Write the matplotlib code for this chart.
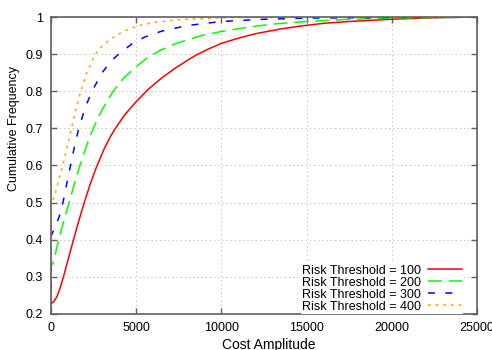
import matplotlib
matplotlib.use('Agg')
import matplotlib.pyplot as plt
from matplotlib.ticker import FormatStrFormatter

plt.rcParams['font.family'] = ['Liberation Sans', 'DejaVu Sans']
plt.rcParams['lines.scale_dashes'] = False

# Cumulative frequency curves
x_100 = [0, 150, 335, 500, 730, 1000, 1320, 1600, 1970, 2300, 2660, 3100, 3500, 3780, 4300,
         5000, 5700, 6500, 7220, 8000, 8500, 9200, 10000, 11000, 12000, 13500, 14700,
         16000, 17500, 20000, 22500, 25000]
y_100 = [0.228, 0.2325, 0.2455, 0.265, 0.30, 0.346, 0.40, 0.446, 0.503, 0.55, 0.595, 0.643, 0.679, 0.70, 0.735,
         0.772, 0.805, 0.836, 0.86, 0.883, 0.897, 0.913, 0.929, 0.943, 0.955, 0.968, 0.976,
         0.983, 0.988, 0.994, 0.998, 1.0]

x_200 = [0, 0, 100, 200, 320, 450, 750, 1060, 1370, 1700, 2060, 2480, 3000, 3650, 4250,
         5000, 5650, 6400, 7200, 8100, 9000, 10000, 11500, 13000, 15000, 17500, 20000, 25000]
y_200 = [0.25, 0.33, 0.335, 0.35, 0.375, 0.40, 0.45, 0.50, 0.55, 0.60, 0.65, 0.70, 0.75, 0.80, 0.835,
         0.866, 0.89, 0.91, 0.926, 0.94, 0.952, 0.961, 0.972, 0.981, 0.988, 0.994, 0.997, 1.0]

x_300 = [0, 0, 100, 300, 500, 700, 900, 1100, 1350, 1600, 2000, 2400, 3000, 3500, 3970,
         4760, 5500, 6500, 8000, 10000, 12500, 15000, 20000, 25000]
y_300 = [0.22, 0.41, 0.42, 0.44, 0.465, 0.50, 0.545, 0.59, 0.645, 0.695, 0.755, 0.80, 0.85, 0.88, 0.90,
         0.928, 0.946, 0.962, 0.977, 0.988, 0.994, 0.997, 0.999, 1.0]

x_400 = [0, 0, 100, 250, 450, 690, 950, 1200, 1450, 1750, 2100, 2600, 3000, 3480, 4200,
         5000, 6000, 7500, 10000, 15000, 25000]
y_400 = [0.2, 0.50, 0.505, 0.525, 0.56, 0.60, 0.65, 0.70, 0.75, 0.80, 0.85, 0.90, 0.922, 0.94, 0.96,
         0.975, 0.985, 0.993, 0.998, 1.0, 1.0]

series = [
    (x_100, y_100, 'Risk Threshold = 100', '#ff0000', '-'),
    (x_200, y_200, 'Risk Threshold = 200', '#00ff00', (0, (10, 5))),
    (x_300, y_300, 'Risk Threshold = 300', '#0000ff', (0, (5, 7.5))),
    (x_400, y_400, 'Risk Threshold = 400', '#ffa500', (0, (2, 3.5))),
]

fig = plt.figure(figsize=(4.92, 3.5), dpi=100)
ax = fig.add_axes([0.1037, 0.1029, 0.8658, 0.8485])

for xs, ys, label, color, ls in series:
    ax.plot(xs, ys, color=color, linestyle=ls, linewidth=1.1, label=label)

ax.set_xlim(0, 25000)
ax.set_ylim(0.2, 1.0)
ax.set_xticks([0, 5000, 10000, 15000, 20000, 25000])
ax.set_yticks([0.2, 0.3, 0.4, 0.5, 0.6, 0.7, 0.8, 0.9, 1.0])
ax.yaxis.set_major_formatter(FormatStrFormatter('%g'))

ax.grid(True, color='#bbbbbb', linestyle=(0, (1, 2)), linewidth=0.6)
ax.set_axisbelow(True)
for s in ax.spines.values():
    s.set_color('#606060')
    s.set_linewidth(1.2)
ax.tick_params(direction='in', length=4, width=1, color='#606060',
               top=True, right=True, labelsize=9, pad=6)

ax.set_xlabel('Cost Amplitude', fontsize=10)
ax.xaxis.set_label_coords(0.512, -0.082)
ax.set_ylabel('Cumulative Frequency', fontsize=9)
ax.yaxis.set_label_coords(-0.072, 0.626)

leg = ax.legend(loc='lower right', bbox_to_anchor=(0.968, 0.0), markerfirst=False,
                frameon=True, fancybox=False, edgecolor='none', facecolor='white',
                framealpha=1, fontsize=9, handlelength=2.7, handletextpad=0.6,
                labelspacing=0.0, borderpad=0.1, borderaxespad=0.0)

fig.savefig('out.png', dpi=100)
